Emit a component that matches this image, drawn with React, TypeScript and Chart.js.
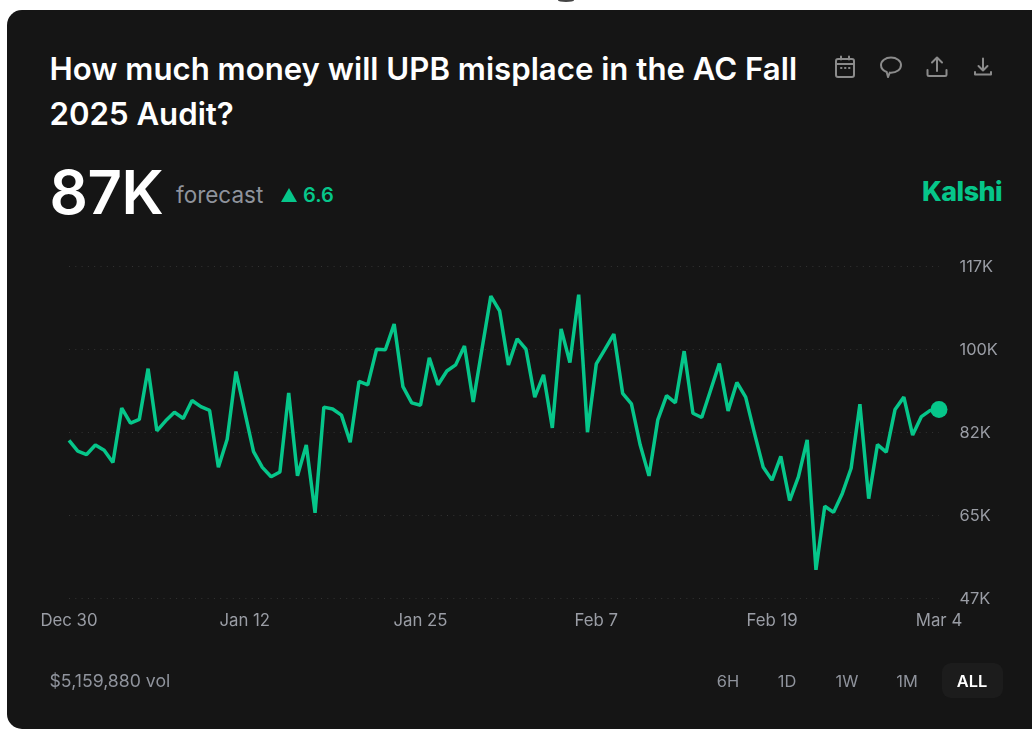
import React, { useEffect, useRef } from "react";
import { Chart, registerables } from "chart.js";

Chart.register(...registerables);

const forecastValues = [
  80.4, 78.1, 77.4, 79.4, 78.3, 75.7, 87.2, 84.0, 84.8, 95.5,
  82.4, 84.5, 86.3, 85.0, 88.8, 87.5, 86.7, 74.7, 80.6, 94.9,
  86.4, 78.0, 74.7, 72.7, 73.7, 90.4, 72.9, 79.4, 65.1, 87.4,
  87.0, 85.7, 80.0, 92.8, 92.1, 99.6, 99.5, 104.9, 91.7, 88.3,
  87.8, 97.8, 92.1, 95.0, 96.3, 100.3, 88.5, 99.7, 110.8, 107.7,
  96.3, 101.8, 99.6, 89.5, 94.2, 83.0, 103.9, 96.8, 111.1, 82.1,
  96.5, 99.6, 102.8, 90.3, 88.1, 79.4, 72.9, 84.7, 89.8, 88.3,
  99.2, 86.1, 85.2, 90.9, 96.6, 86.6, 92.6, 89.5, 81.9, 74.7,
  72.0, 77.0, 67.7, 72.7, 80.5, 53.1, 66.5, 65.2, 69.2, 74.5,
  88.0, 68.1, 79.5, 77.9, 86.9, 89.5, 81.5, 85.4, 86.7, 86.9,
];
const xTickIndexes = [0, 20, 40, 60, 80, 99];
const xTickLabels = ["Dec 30", "Jan 12", "Jan 25", "Feb 7", "Feb 19", "Mar 4"];
const yMin = 47;
const yMax = 117;
const yStep = 17.5;
const rangeButtons = ["6H", "1D", "1W", "1M", "ALL"];

const GREEN = "#06c68a";
const FONT = "Inter, 'Noto Sans', sans-serif";
const W = 1032;
const H = 729;

const abs = (left: number, top: number, extra: React.CSSProperties = {}): React.CSSProperties => ({
  position: "absolute", left, top, whiteSpace: "nowrap", ...extra,
});

const ICON = { fill: "none", stroke: "#8b8b8b", strokeWidth: 2, strokeLinecap: "round", strokeLinejoin: "round" } as const;

export default function App() {
  const ref = useRef<HTMLCanvasElement>(null);
  useEffect(() => {
    document.body.style.margin = "0";
    document.body.style.background = "#fff";
    const lastIndex = forecastValues.length - 1;
    const chart = new Chart(ref.current!, {
      type: "line",
      data: {
        labels: forecastValues.map((_, i) => {
          const at = xTickIndexes.indexOf(i);
          return at >= 0 ? xTickLabels[at] : "";
        }),
        datasets: [{
          data: forecastValues,
          borderColor: GREEN,
          backgroundColor: GREEN,
          borderWidth: 3.5,
          tension: 0,
          borderJoinStyle: "bevel",
          clip: false,
          pointBorderWidth: 0,
          pointRadius: (c: any) => (c.dataIndex === lastIndex ? 8.5 : 0),
          pointHoverRadius: (c: any) => (c.dataIndex === lastIndex ? 8.5 : 0),
        }],
      },
      options: {
        responsive: false,
        animation: false,
        events: [],
        layout: { padding: { left: 69, top: 266.7, right: 0, bottom: 0 } },
        plugins: { legend: { display: false }, tooltip: { enabled: false } },
        scales: {
          x: {
            offset: false,
            border: { display: false },
            grid: { display: false },
            afterFit: (s: any) => { s.height = H - 598.7; },
            ticks: {
              autoSkip: false,
              maxRotation: 0,
              minRotation: 0,
              padding: 4,
              color: "#9a9da5",
              font: { family: FONT, size: 16.8 },
              callback(_v: any, i: number) {
                const at = xTickIndexes.indexOf(i);
                return at >= 0 ? xTickLabels[at] : null;
              },
            },
          },
          y: {
            position: "right",
            min: yMin,
            max: yMax,
            border: { display: false, dash: [1, 5.3] },
            afterFit: (s: any) => { s.width = W - 939; },
            grid: {
              color: "#333333",
              lineWidth: 1,
              drawTicks: false,
            },
            afterBuildTicks: (s: any) => {
              const t = [];
              for (let v = yMin; v <= yMax; v += yStep) t.push({ value: v });
              s.ticks = t;
            },
            ticks: {
              padding: 20.5,
              color: "#9a9da5",
              font: { family: FONT, size: 16.4 },
              callback: (v: any) => `${Math.round(Number(v))}K`,
            },
          },
        },
      },
    } as any);
    return () => chart.destroy();
  }, []);

  return (
    <div style={{ position: "relative", width: W, height: H, overflow: "hidden", background: "#fff", fontFamily: FONT }}>
      <div style={abs(558, -1, { width: 16, height: 3, background: "#444", borderRadius: "50%" })} />
      <div style={abs(7, 10, { width: 1100, height: 719, background: "#151515", borderRadius: 15 })} />
      <div style={abs(49.5, 46.5, { width: 765, whiteSpace: "normal", color: "#fff", fontSize: 31.2, fontWeight: 600, lineHeight: "45px" })}>
        How much money will UPB misplace in the AC Fall 2025 Audit?
      </div>

      <svg style={abs(832, 54)} width="26" height="26" viewBox="0 0 26 26" {...ICON}>
        <rect x="4" y="5" width="18" height="18" rx="2" />
        <path d="M4 10h18M9 2.500v3M17 2.500v3" />
        <path d="M9 14h.5M13 14h.5M17 14h.5" />
      </svg>
      <svg style={abs(878, 54)} width="26" height="26" viewBox="0 0 26 26" {...ICON}>
        <path d="M13 3.500c5.600 0 10 3.300 10 7.600 0 4.300-4.400 7.600-10 7.600-.4 0-.8 0-1.200-.1l-1.800 4.400-1.300-5C5.400 16.800 3 14.200 3 11.100 3 6.800 7.400 3.500 13 3.500z" />
      </svg>
      <svg style={abs(924, 54)} width="26" height="26" viewBox="0 0 26 26" {...ICON}>
        <path d="M13 17V4M8 8.500 13 3.500l5 5M3.500 16v4.500a1.500 1.500 0 0 0 1.500 1.500h16a1.500 1.500 0 0 0 1.500-1.500V16" />
      </svg>
      <svg style={abs(970, 54)} width="26" height="26" viewBox="0 0 26 26" {...ICON}>
        <path d="M13 4.500v12M8.500 12l4.500 4.500 4.500-4.500M5 18v2.500h16V18" />
      </svg>

      <div style={abs(49.5, 155, { color: "#fff", fontSize: 60, fontWeight: 600, lineHeight: "74px", letterSpacing: -0.5 })}>87K</div>
      <div style={abs(176, 180, { color: "#8f939c", fontSize: 22.5, lineHeight: "30px" })}>forecast</div>
      <svg style={abs(281, 188)} width="16" height="14" viewBox="0 0 16 14"><path d="M8 0 16 14H0z" fill={GREEN} /></svg>
      <div style={abs(303, 182, { color: GREEN, fontSize: 20, fontWeight: 600, lineHeight: "26px" })}>6.6</div>
      <div style={abs(922, 172, { color: GREEN, fontSize: 26.8, fontWeight: 800, lineHeight: "38px", letterSpacing: -0.5 })}>Kalshi</div>

      <canvas ref={ref} width={W} height={H} style={abs(0, 0, { display: "block" })} />

      <div style={abs(49.5, 670, { color: "#8f939c", fontSize: 17.7, lineHeight: "22px" })}>$5,159,880 vol</div>
      <div style={abs(942, 663, { width: 61, height: 35, borderRadius: 9, background: "#1c1c1c" })} />
      {rangeButtons.map((b, i) => (
        <div key={b} style={abs([728, 787, 847, 907, 972][i], 670, {
          transform: "translateX(-50%)",
          color: b === "ALL" ? "#fff" : "#8f939c",
          fontSize: 16.4,
          fontWeight: b === "ALL" ? 600 : 400,
          lineHeight: "22px",
        })}>{b}</div>
      ))}
    </div>
  );
}
